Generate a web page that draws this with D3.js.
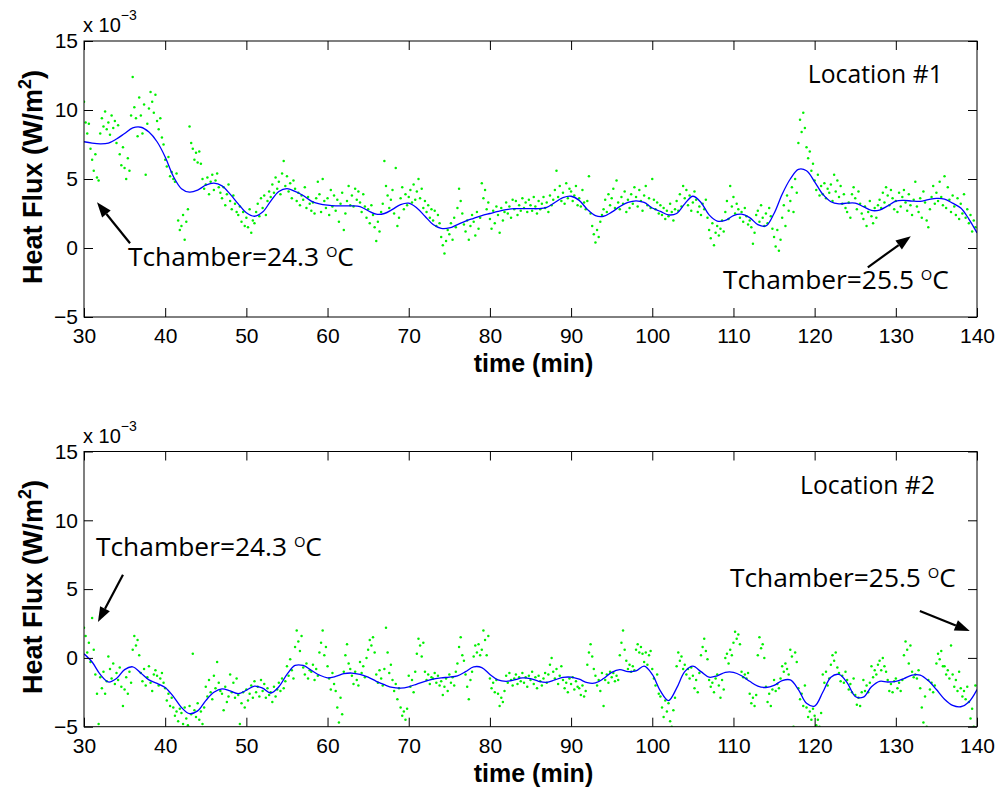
<!DOCTYPE html>
<html><head><meta charset="utf-8">
<script src="https://cdn.jsdelivr.net/npm/d3@7"></script>
<style>body{margin:0;background:#fff}</style>
</head><body><svg id="c" width="998" height="789"></svg>
<script>
// ---- data (units: 1e-3 W/m^2) ----
const xTicks = [30,40,50,60,70,80,90,100,110,120,130,140];
const yTicks = [-5,0,5,10,15];
const fitTimes = d3.range(30,141); // minutes, 1-min spacing
const rawStart = 30, rawStep = 0.2; // raw samples every 0.2 min

// smoothed fit, location #1
const fit1 = [7.7,7.6,7.55,7.6,7.9,8.3,8.7,8.75,8.4,7.7,
 6.6,5.2,4.3,4.05,4.2,4.55,4.7,4.5,3.9,3.2,
 2.55,2.3,2.6,3.4,4.1,4.3,4.1,3.8,3.4,3.2,
 3.1,3.05,3.05,3.05,3.0,2.7,2.45,2.5,2.8,3.15,
 3.25,2.9,2.3,1.7,1.42,1.45,1.7,1.95,2.15,2.35,
 2.5,2.65,2.78,2.85,2.85,2.85,2.85,2.95,3.3,3.65,
 3.75,3.45,2.8,2.35,2.3,2.6,3.0,3.3,3.42,3.3,
 2.9,2.65,2.4,2.5,3.2,3.75,3.3,2.4,1.95,2.0,
 2.35,2.45,2.2,1.7,1.6,2.5,3.9,5.0,5.7,5.6,
 4.8,3.9,3.35,3.2,3.25,3.25,3.0,2.72,2.75,3.05,
 3.4,3.45,3.4,3.38,3.5,3.6,3.55,3.25,2.9,2.1,1.1];

// smoothed fit, location #2
const fit2 = [0.3,-0.3,-1.2,-1.75,-1.5,-0.85,-0.65,-1.1,-1.6,-1.85,
 -2.15,-2.8,-3.6,-4.05,-3.85,-3.1,-2.5,-2.25,-2.4,-2.6,
 -2.35,-2.05,-2.2,-2.55,-2.1,-1.2,-0.55,-0.55,-0.9,-1.25,
 -1.45,-1.35,-1.15,-1.1,-1.2,-1.4,-1.7,-1.95,-2.15,-2.2,
 -2.1,-1.9,-1.7,-1.55,-1.45,-1.4,-1.3,-1.0,-0.65,-0.7,
 -1.2,-1.6,-1.7,-1.6,-1.45,-1.5,-1.7,-1.78,-1.6,-1.42,
 -1.4,-1.55,-1.8,-1.82,-1.5,-1.05,-0.85,-1.0,-0.95,-0.6,
 -1.2,-2.4,-3.1,-2.2,-1.0,-0.6,-1.0,-1.4,-1.3,-1.05,
 -1.05,-1.3,-1.7,-2.05,-2.15,-2.0,-1.65,-1.6,-2.3,-3.3,
 -3.5,-2.5,-1.4,-1.2,-1.8,-2.8,-2.85,-2.1,-1.7,-1.75,
 -1.7,-1.5,-1.25,-1.25,-1.65,-2.3,-3.0,-3.45,-3.55,-3.2,-2.3];

// raw measurements, location #1 (5 per minute, 30.0 .. 139.8)
const raw1 = [
 10.6,9.1,8.3,9.0,7.2, 6.4,5.6,6.8,5.1,4.9, 8.3,9.4,8.8,9.9,8.6, 9.1,8.2,9.6,8.7,9.2, 7.6,8.9,6.8,6.0,7.3,
 5.8,5.0,6.5,5.6,9.6, 12.4,10.2,9.4,8.1,10.9, 9.6,8.3,10.4,5.3,9.0, 10.1,11.3,10.6,9.8,11.1, 9.2,8.6,9.4,8.0,7.5,
 6.4,5.9,6.6,5.2,5.5, 5.0,4.8,5.4,2.0,1.3, 1.6,2.4,0.6,1.9,2.8, 8.8,7.6,7.2,6.4,6.9, 6.2,7.0,6.1,5.0,4.3,
 4.6,5.1,3.9,4.8,5.3, 4.2,4.9,5.4,4.4,4.0, 3.6,4.4,3.1,3.9,4.6, 3.4,2.8,3.8,3.2,2.6, 2.4,3.0,1.9,2.6,1.6,
 2.2,1.5,2.8,1.1,2.0, 1.8,2.6,3.2,2.3,3.6, 2.9,3.8,2.4,3.4,4.1, 3.7,4.6,4.0,5.1,4.3, 4.8,3.9,5.4,6.3,4.5,
 5.2,4.1,4.7,3.6,4.9, 4.3,3.4,4.0,3.1,3.8, 3.5,4.4,2.9,3.7,3.2, 2.7,3.3,2.5,3.6,4.8, 3.9,2.6,5.0,3.4,2.9,
 3.6,2.4,4.2,3.0,3.8, 2.7,3.5,1.9,3.2,4.0, 1.3,2.5,3.4,4.5,3.1, 3.8,3.0,4.3,3.5,4.1, 3.3,2.6,3.9,3.0,2.2,
 2.8,1.8,3.1,2.4,1.5, 0.5,1.9,1.2,2.6,3.2, 6.3,4.5,3.8,2.9,3.5, 4.2,2.5,5.8,1.6,2.2, 3.6,4.4,2.8,3.9,3.1,
 3.7,4.2,3.3,4.6,3.5, 4.1,5.0,3.6,4.3,2.9, 3.4,2.6,3.1,2.2,2.8, 2.0,2.7,1.6,2.4,1.8, 0.8,0.2,-0.4,0.5,1.3,
 1.0,1.8,0.6,2.2,1.5, 2.9,4.3,3.4,2.5,1.7, 1.2,2.0,0.6,1.6,2.4, 1.9,0.9,2.6,1.4,2.2, 4.7,3.6,4.2,2.8,3.3,
 2.1,1.4,2.7,1.8,3.0, 2.4,1.1,2.9,2.0,2.6, 3.3,2.5,3.0,2.2,3.5, 2.8,3.4,2.4,3.1,2.7, 3.6,2.9,3.3,2.6,3.5,
 3.1,2.7,3.7,3.0,2.5, 3.4,2.8,3.2,3.7,2.9, 3.3,2.6,3.8,3.1,3.5, 4.2,5.6,3.7,4.5,3.4, 4.0,3.2,4.7,3.6,4.3,
 4.1,3.4,3.8,4.5,3.1, 3.6,3.0,4.2,3.3,2.8, 3.4,5.2,2.5,1.6,1.0, 0.4,1.3,0.8,1.9,2.4, 2.8,3.5,2.6,3.9,3.1,
 3.6,4.3,2.9,4.9,3.3, 2.8,3.7,3.2,4.1,2.6, 3.5,2.9,3.9,3.2,4.4, 3.7,3.0,4.2,3.4,2.7, 3.8,4.5,3.1,3.6,2.9,
 5.0,3.5,2.8,3.3,2.5, 3.1,2.4,2.9,2.1,2.7, 2.3,3.2,2.6,2.0,2.8, 3.4,2.7,3.9,3.0,4.5, 3.6,4.2,3.1,3.8,2.7,
 3.3,4.1,3.5,2.6,3.0, 2.4,3.2,2.8,3.5,2.2, 1.3,0.7,1.8,0.2,1.1, 1.6,0.9,1.4,2.0,1.2, 2.6,3.4,2.1,4.5,3.0,
 3.7,2.5,3.2,2.8,2.2, 2.6,1.9,2.9,2.3,1.7, 2.0,1.5,0.3,1.1,2.4, 2.7,1.9,3.1,2.2,1.6, 2.5,1.8,2.9,2.3,1.4,
 0.8,0.1,1.3,-0.2,0.6, 2.2,3.1,1.6,3.8,2.7, 3.4,4.4,2.6,5.0,4.0, 7.6,9.3,8.4,9.8,8.7, 7.3,6.5,7.0,5.6,6.1,
 4.9,4.2,5.3,3.8,4.5, 3.9,4.7,3.6,4.3,4.0, 4.6,3.4,5.3,4.1,4.9, 3.7,4.5,3.2,3.9,2.9, 2.6,3.3,2.2,3.9,4.4,
 3.6,2.8,4.1,3.2,2.5, 2.1,3.0,1.6,2.6,3.4, 2.3,1.8,2.9,2.2,3.1, 3.5,2.9,4.0,3.3,4.4, 3.8,3.1,4.2,3.6,2.8,
 3.4,2.6,4.0,3.0,3.7, 4.2,3.3,2.7,3.9,3.1, 2.4,3.5,4.8,3.0,2.6, 3.6,2.2,4.1,3.3,2.0, 1.5,2.8,3.7,4.5,3.2,
 4.0,3.4,4.8,3.7,3.1, 5.2,2.9,4.4,3.5,2.6, 3.8,3.0,2.4,3.6,2.1, 3.2,2.5,3.9,2.2,2.8, 1.8,2.4,1.2,2.0,1.5];

// raw measurements, location #2
const raw2 = [
 2.2,1.6,0.4,1.1,-0.3, 2.9,0.6,-1.2,-2.6,-4.8, -1.4,-2.2,-1.0,-2.6,-1.7, 0.1,-0.8,-1.5,-0.4,-1.9, -1.1,-1.6,-0.7,-2.1,-3.5,
 -2.3,-1.4,-2.6,-1.0,-1.8, 0.6,1.6,0.9,1.3,0.2, -1.1,-1.7,-0.8,-2.0,-1.4, -0.6,-1.8,-2.4,-1.2,-0.9, -1.3,-2.0,-1.5,-1.1,-1.8,
 -2.2,-3.1,-2.6,-3.5,-2.9, -3.6,-4.2,-3.9,-4.6,-3.7, -4.0,-4.8,-3.6,-4.4,-4.9, -3.5,-4.1,0.3,-3.8,-4.3, -3.3,-4.5,-3.9,-4.8,-3.6,
 -2.1,-2.8,-1.6,-2.5,-3.0, -1.3,-2.2,-0.3,-1.8,-2.4, -2.6,-3.8,-2.1,-3.2,-2.8, -1.2,-2.5,-1.8,-2.9,-1.5, -2.7,-4.8,-3.3,-2.5,-3.6,
 -2.3,-3.1,-2.6,-2.0,-2.9, -1.7,-2.5,-2.1,-2.8,-1.6, -2.4,-1.9,-2.9,-2.2,-2.7, -2.5,-3.2,-2.1,-2.8,-2.3, -1.8,-2.4,-1.5,-2.2,-1.7,
 -0.6,-1.3,-0.1,-0.9,-1.5, 0.8,2.0,1.2,0.5,1.6, -0.7,-1.2,-0.4,-1.5,-0.9, -1.0,-0.5,-1.6,-0.8,-1.3, 0.4,1.1,2.0,0.2,0.8,
 -0.6,-1.5,-2.3,-1.1,-1.9, -2.4,-3.6,-4.7,-2.9,-4.1, -1.0,0.2,1.0,-0.4,-0.8, -1.3,-1.9,-1.0,-1.6,-2.0, -0.3,-1.1,-0.6,-1.4,0.0,
 0.6,1.3,0.9,1.5,0.4, -1.2,-1.8,-0.9,-1.5,-2.0, -0.8,2.2,0.4,-1.1,-0.5, -1.6,-2.4,-1.9,-3.0,-2.2, -3.6,-4.2,-3.9,-4.5,-3.7,
 -1.3,-2.1,-1.6,-2.5,-1.0, 0.3,1.4,0.9,0.1,1.1, -1.0,-1.6,-1.2,-1.9,-1.4, -1.5,-1.1,-1.8,-1.3,-2.0, -1.7,-2.7,-2.1,-1.5,-2.4,
 -1.2,-1.8,-1.4,-2.0,-1.0, -0.4,0.8,1.5,0.2,-0.2, -1.2,-2.1,-3.0,-1.6,-1.0, 0.1,0.9,0.4,1.0,0.2, 0.6,2.0,1.3,0.2,1.6,
 -1.5,-2.2,-1.8,-2.5,-1.6, -2.6,-3.5,-2.9,-3.2,-2.4, -1.3,-1.8,-1.1,-1.6,-2.0, -1.5,-1.2,-1.9,-1.4,-1.7, -1.1,-1.8,-1.4,-2.1,-1.3,
 -1.6,-1.0,-1.9,-1.4,-2.2, -1.3,-1.7,-2.0,-1.5,-1.1, -1.8,-1.2,-0.5,0.0,-1.0, -1.5,-0.8,-1.9,-1.3,-0.6, -1.6,-2.2,-1.8,-2.5,-1.5,
 -1.9,-1.4,-2.3,-1.7,-2.1, -2.2,-2.7,-2.0,-2.8,-2.4, -0.5,0.4,1.0,0.1,-0.8, -1.3,-2.0,-1.6,-2.4,-1.1, -3.5,-1.6,-1.2,-1.8,-1.0,
 -1.4,-1.1,-1.7,-1.3,-1.6, 0.2,1.1,2.0,0.6,-0.2, -0.8,-0.5,-1.0,-0.6,-0.9, 0.6,1.0,0.4,0.8,0.3, -0.3,0.4,-0.5,0.2,0.5,
 -0.8,-1.5,-2.0,-1.2,-2.6, -2.8,-3.6,-4.3,-3.1,-3.9, -3.3,-4.6,-5.0,-3.8,-2.9, -0.6,0.4,-0.2,0.1,-0.8, -0.5,-1.2,-0.8,-1.5,-0.7,
 -1.3,-2.2,-1.6,-2.5,-1.1, 0.2,0.8,1.4,0.5,-0.1, -1.6,-2.1,-1.8,-2.5,-1.5, -1.2,-2.0,-2.9,-1.6,-2.3, 0.0,0.3,-0.4,0.6,0.2,
 1.1,1.9,1.4,1.7,1.0, -1.0,-1.4,-1.2,-1.5,-1.1, -2.6,-3.3,-2.9,-3.5,-2.7, 0.2,1.5,0.7,1.0,0.0, -2.1,-3.2,-2.6,-3.5,-2.3,
 -1.6,-2.4,-1.9,-2.2,-1.5, -0.6,-1.0,-0.4,-0.8,-1.2, 0.6,0.1,-5.0,0.4,-0.3, -2.2,-3.0,-2.6,-3.5,-2.0, -3.6,-4.3,-3.9,-4.5,-3.7,
 -4.2,-4.9,-4.5,-5.0,-4.0, -1.2,-1.8,-1.0,-2.0,-1.5, -0.5,0.2,-0.2,0.4,-0.7, -1.1,-1.7,-1.3,-1.8,-1.0, -1.6,-2.3,-1.9,-2.5,-1.5,
 -2.7,-3.4,-2.9,-3.5,-2.5, -1.6,-2.4,-2.0,-2.5,-1.8, -0.6,-1.4,-0.9,-1.2,-0.5, -0.2,-0.9,0.0,-0.6,-1.0, -1.6,-2.4,-1.9,-2.5,-1.7,
 -1.5,-2.2,-1.8,-2.4,-1.6, 0.2,1.2,0.6,-0.4,0.9, -1.0,-1.4,-1.2,-1.5,-0.9, -2.2,-3.6,-4.7,-2.8,-5.0, -1.6,-2.3,-1.8,-2.5,-2.0,
 -0.4,0.3,-0.1,0.5,-0.6, -0.6,-1.2,-0.9,-1.5,0.9, -1.2,-2.1,-1.6,-2.4,-1.0, -2.2,-2.8,-2.4,-3.0,-2.1, -3.2,-4.4,-3.7,-5.0,-2.0];

const locLabels = ["Location #1","Location #2"];
// annotation anchor points in data units [time, value]
const notes1 = [
 {temp:"24.3", text:[35.42,-1.33], tail:[35.67,0.34], tip:[31.6,3.31]},
 {temp:"25.5", text:[108.7,-2.99], tail:[126.55,-1.4], tip:[131.85,0.85]}];
const notes2 = [
 {temp:"24.3", text:[31.48,7.42], tail:[34.8,6.04], tip:[31.72,2.61]},
 {temp:"25.5", text:[109.56,5.16], tail:[132.96,3.41], tip:[139.11,1.95]}];
const locPos = [[119.16,11.93],[118.2,11.88]];

// ---- drawing ----
const svg = d3.select("#c");
const left = 84, right = 977;
const panels = [
 {top:41, bottom:317, fit:fit1, raw:raw1, notes:notes1, loc:locLabels[0], locPos:locPos[0]},
 {top:451.5, bottom:726.7, fit:fit2, raw:raw2, notes:notes2, loc:locLabels[1], locPos:locPos[1]}];

const tickFont = "'Liberation Sans', Arial, Helvetica, sans-serif";
const noteFont = "'Open Sans', 'Noto Sans', sans-serif";

panels.forEach((p, pi) => {
  const x = d3.scaleLinear().domain([30,140]).range([left,right]);
  const y = d3.scaleLinear().domain([-5,15]).range([p.bottom,p.top]);
  const g = svg.append("g");
  const cid = "clip"+pi;
  svg.append("clipPath").attr("id",cid).append("rect")
    .attr("x",left).attr("y",p.top).attr("width",right-left).attr("height",p.bottom-p.top);

  const data = g.append("g").attr("clip-path",`url(#${cid})`);
  data.selectAll("circle").data(p.raw).join("circle")
    .attr("cx",(d,i)=>x(rawStart+i*rawStep))
    .attr("cy",d=>y(d))
    .attr("r",1.25)
    .attr("fill","#00f000");
  const line = d3.line().x((d,i)=>x(fitTimes[i])).y(d=>y(d)).curve(d3.curveCatmullRom.alpha(0.5));
  data.append("path").datum(p.fit).attr("d",line)
    .attr("fill","none").attr("stroke","#0000ff").attr("stroke-width",1.3);

  // axes (ticks inward, all four sides)
  const tl = 9;
  const mk = (axis, tr) => {
    const a = g.append("g").attr("transform",tr).call(axis);
    a.select(".domain").remove();
    a.selectAll("line").attr("stroke","#000").attr("stroke-width",1);
    return a;
  };
  const xb = mk(d3.axisBottom(x).tickValues(xTicks).tickSize(-tl).tickPadding(13), `translate(0,${p.bottom})`);
  xb.selectAll("text").attr("font-family",tickFont).attr("font-size",21).attr("fill","#000")
    .attr("dy",null).attr("y",26);
  mk(d3.axisTop(x).tickValues(xTicks).tickSize(-tl).tickFormat(""), `translate(0,${p.top})`);
  const yl = mk(d3.axisLeft(y).tickValues(yTicks).tickSize(-tl).tickPadding(6), `translate(${left},0)`);
  yl.selectAll("text").attr("font-family",tickFont).attr("font-size",21).attr("fill","#000");
  mk(d3.axisRight(y).tickValues(yTicks).tickSize(-tl).tickFormat(""), `translate(${right},0)`);

  g.append("rect").attr("x",left).attr("y",p.top).attr("width",right-left).attr("height",p.bottom-p.top)
    .attr("fill","none").attr("stroke","#000").attr("stroke-width",1);

  // exponent
  const ex = g.append("text").attr("x",left-1).attr("y",p.top-9)
    .attr("font-family",tickFont).attr("font-size",20);
  ex.append("tspan").text("x 10");
  ex.append("tspan").text("\u22123").attr("font-size",14).attr("dy",-12);

  // axis labels
  g.append("text").attr("x",(left+right)/2+3).attr("y",p.bottom+55)
    .attr("text-anchor","middle").attr("font-family",tickFont).attr("font-weight","bold")
    .attr("font-size",25).text("time (min)");
  const ylab = g.append("text")
    .attr("transform",`translate(42,${(p.top+p.bottom)/2-2}) rotate(-90)`)
    .attr("text-anchor","middle").attr("font-family",tickFont).attr("font-weight","bold")
    .attr("font-size",27);
  ylab.append("tspan").text("Heat Flux (W/m");
  ylab.append("tspan").text("2").attr("font-size",18).attr("dy",-11);
  ylab.append("tspan").text(")").attr("dy",11);

  // location label
  const lt = g.append("text").attr("x",x(p.locPos[0])).attr("y",y(p.locPos[1]))
    .attr("font-family",noteFont).attr("font-size",24).text(p.loc);
  const lw = lt.node().getComputedTextLength();
  lt.attr("font-size",24*135/lw);

  // annotations
  p.notes.forEach(n => {
    const t = g.append("text").attr("x",x(n.text[0])).attr("y",y(n.text[1]))
      .attr("font-family",noteFont).attr("font-size",25);
    t.append("tspan").text("Tchamber=" + n.temp + " ");
    t.append("tspan").text("O").attr("font-size","0.56em").attr("dy","-0.62em");
    t.append("tspan").text("C").attr("dy","0.347em");
    const w = t.node().getBBox().width;
    t.attr("font-size",25*226/w);

    const x1 = x(n.tail[0]), y1 = y(n.tail[1]), x2 = x(n.tip[0]), y2 = y(n.tip[1]);
    const ang = Math.atan2(y2-y1, x2-x1);
    const hl = 15, hw = 5.5;
    const bx = x2 - hl*Math.cos(ang), by = y2 - hl*Math.sin(ang);
    g.append("line").attr("x1",x1).attr("y1",y1).attr("x2",bx).attr("y2",by)
      .attr("stroke","#000").attr("stroke-width",2.2);
    const px = -Math.sin(ang), py = Math.cos(ang);
    g.append("path")
      .attr("d",`M${x2},${y2}L${bx+hw*px},${by+hw*py}L${bx-hw*px},${by-hw*py}Z`)
      .attr("fill","#000");
  });
});
</script></body></html>
